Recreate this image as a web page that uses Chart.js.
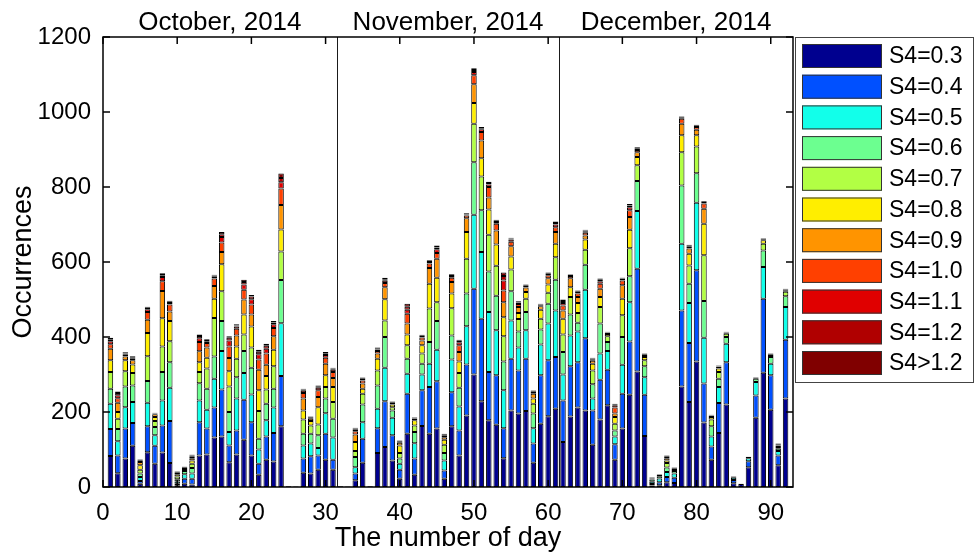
<!DOCTYPE html>
<html>
<head>
<meta charset="utf-8">
<script src="https://cdn.jsdelivr.net/npm/chart.js@4.4.1/dist/chart.umd.min.js"></script>
<style>
html,body{margin:0;padding:0;background:#fff}
#wrap{width:975px;height:552px}
</style>
</head>
<body>
<div id="wrap"><canvas id="chart" width="975" height="552"></canvas></div>
<script>
// day number 1..92 (1 Oct .. 31 Dec 2014)
const days = Array.from({length:92},(_,i)=>i+1);

const seriesLabels = ['S4=0.3','S4=0.4','S4=0.5','S4=0.6','S4=0.7','S4=0.8','S4=0.9','S4=1.0','S4=1.1','S4=1.2','S4>1.2'];

const monthNames = ['October, 2014','November, 2014','December, 2014'];
const monthEdges = [31.5, 61.5];

const yTicks = [0,200,400,600,800,1000,1200];
const xTicks = [0,10,20,30,40,50,60,70,80,90];

// occurrences per day, one array per S4 bin
const s03 = [83,37,76,110,9,93,62,92,64,5, 9,7,84,87,132,135,66,87,126,84, 33,73,68,162,2,1,38,36,46,73,
  46,2,1,18,65,2,91,107,71,22, 142,33,163,142,156,22,162,84,191,300, 229,178,166,77,204,196,203,65,169,189,
  209,120,188,212,204,113,180,218,73,156, 246,308,136,4,5,13,11,268,227,335, 172,73,144,220,10,8,53,185,305,206, 58,236];
const s04 = [72,47,80,61,7,69,48,72,112,4, 13,15,89,69,80,125,45,64,107,89, 29,62,76,134,1,1,38,46,38,69,
  27,1,1,18,64,0,66,122,67,24, 107,43,95,125,126,22,91,67,136,229, 220,129,132,80,138,115,139,51,129,149,
  138,111,134,121,193,91,106,95,41,93, 142,274,110,4,8,14,14,203,157,243, 104,35,80,113,9,1,16,59,197,92, 26,157];
const s05 = [67,38,57,56,11,63,28,67,89,6, 12,14,58,50,77,103,36,85,71,74, 38,43,68,141,0,0,35,34,20,55,
  59,0,0,17,44,0,52,89,47,16, 53,41,42,62,84,27,87,64,102,197, 178,160,120,101,102,61,76,41,82,98,
  124,69,82,82,129,32,70,50,21,77, 105,154,47,6,10,13,11,178,107,180, 122,27,43,49,6,0,8,36,85,31, 12,87];
const s06 = [40,33,55,44,9,58,22,76,68,6, 9,15,46,56,59,80,53,57,59,71, 29,44,50,115,0,0,31,26,34,39,
  50,0,0,27,47,0,62,82,19,14, 40,30,29,58,77,20,64,50,87,140, 111,108,92,77,78,43,49,39,40,53,
  82,60,56,23,67,38,80,24,16,74, 69,80,29,6,6,12,7,155,51,79, 98,27,22,18,3,0,3,9,44,18, 6,29];
const s07 = [45,27,41,33,10,66,16,68,56,7, 5,11,30,54,103,79,68,49,44,54, 74,38,60,76,0,0,38,22,29,31,
  45,0,0,16,29,0,40,44,9,15, 36,17,27,89,50,22,73,39,93,103, 90,98,80,67,58,33,35,26,29,29,
  60,47,47,26,40,37,44,15,18,58, 75,42,16,3,3,12,5,89,49,71, 122,18,18,9,1,0,1,3,18,5, 5,12];
const s08 = [31,18,29,23,12,62,11,75,54,6, 3,9,26,29,51,72,41,33,53,56, 55,36,44,59,0,0,24,12,46,31,
  40,0,0,24,13,0,31,57,7,20, 29,14,22,66,65,13,39,31,71,55, 49,67,57,51,35,16,18,14,24,22,
  36,42,26,27,27,18,27,6,18,44, 49,22,9,2,1,7,2,45,31,30, 84,7,9,3,0,0,0,1,9,2, 4,4];
const s09 = [31,25,10,11,9,35,7,73,25,4, 2,6,29,27,34,33,35,29,40,32, 55,30,36,65,0,0,32,6,27,31,
  24,0,0,20,14,0,14,32,4,7, 29,5,13,42,51,7,31,25,37,50, 47,32,37,40,27,16,12,13,9,17,
  31,22,24,16,11,8,22,3,9,36, 34,13,5,1,1,6,1,31,14,15, 40,3,5,1,0,0,0,0,3,1, 3,2];
const s10 = [12,12,5,4,3,21,2,26,19,2, 1,4,25,12,20,25,31,18,26,27, 27,30,22,44,0,0,15,3,18,16,
  16,0,0,9,8,0,7,11,2,3, 26,2,8,12,15,4,11,18,7,24, 23,28,18,31,12,8,4,5,3,8,
  13,13,6,9,7,4,13,1,16,13, 18,6,2,1,1,4,1,13,5,7, 14,1,1,1,0,0,0,0,1,1, 1,1];
const s11 = [8,8,3,3,2,7,1,11,4,1, 1,3,10,5,5,15,16,6,14,14, 14,13,10,17,0,0,6,2,7,7,
  6,0,0,4,4,0,4,6,1,2, 11,1,4,4,10,2,5,8,3,9, 7,7,5,27,6,4,2,2,2,4,
  7,7,3,4,4,2,7,1,6,5, 8,3,1,0,0,2,0,4,2,3, 4,1,1,0,0,0,0,0,1,0, 1,1];
const s12 = [5,6,2,2,1,4,1,5,3,1, 0,2,6,3,3,7,7,3,7,7, 7,8,5,11,0,0,3,1,4,5,
  3,0,0,3,2,0,3,4,1,1, 8,1,2,3,5,2,3,4,2,5, 3,4,3,12,3,2,1,1,1,2,
  4,5,1,2,2,1,4,1,3,2, 5,2,1,0,0,1,0,2,2,2, 2,1,1,0,0,0,0,0,1,0, 0,0];
const sGt12 = [4,4,2,2,1,3,0,5,3,0, 0,1,4,2,2,6,4,3,6,4, 5,5,4,12,0,0,2,0,2,3,
  2,0,0,2,2,0,2,4,0,0, 8,0,1,2,5,1,2,3,2,5, 3,3,3,9,2,2,1,1,1,1,
  4,4,1,2,2,1,3,0,1,1, 4,2,0,0,0,0,0,1,1,1, 1,0,0,0,0,0,0,0,0,0, 0,0];

const seriesValues = [s03,s04,s05,s06,s07,s08,s09,s10,s11,s12,sGt12];

// jet-like colours, one per bin
const jet = ['#00008f','#0050ff','#12ffea','#6cff90','#b2ff44','#ffee00','#ff9400','#ff4000','#e00000','#b00000','#800000'];

const FONT = "'Liberation Sans', Arial, Helvetica, sans-serif";
Chart.defaults.font.family = FONT;
Chart.defaults.color = '#000';

const datasets = seriesValues.map((vals,k)=>({
  label: seriesLabels[k],
  data: days.map((d,i)=>({x:d, y:vals[i]})),
  backgroundColor: jet[k],
  borderColor: '#000',
  borderWidth: 1,
  borderSkipped: false,
  barPercentage: 0.74,
  categoryPercentage: 1
}));

// box, inward ticks, month dividers + labels, legend
const framePlugin = {
  id:'frame',
  afterDatasetsDraw(chart){
    const {ctx, chartArea:a, scales:{x,y}} = chart;
    ctx.save();
    const line=(x1,y1,x2,y2)=>{ctx.beginPath();ctx.moveTo(x1,y1);ctx.lineTo(x2,y2);ctx.stroke();};

    ctx.strokeStyle='#1a1a1a'; ctx.lineWidth=1;
    monthEdges.forEach(v=>{
      const px=Math.round(x.getPixelForValue(v))+0.5;
      line(px,a.top,px,a.bottom);
    });

    ctx.strokeStyle='#000'; ctx.lineWidth=1.5;
    ctx.strokeRect(a.left,a.top,a.right-a.left,a.bottom-a.top);
    const tl=7;
    xTicks.forEach(v=>{
      const px=x.getPixelForValue(v);
      line(px,a.bottom,px,a.bottom-tl);
      line(px,a.top,px,a.top+tl);
    });
    yTicks.forEach(v=>{
      const py=y.getPixelForValue(v);
      line(a.left,py,a.left+tl,py);
      line(a.right,py,a.right-tl,py);
    });

    // month titles, centred over each month
    const bounds=[x.min,...monthEdges,x.max];
    ctx.fillStyle='#000';
    ctx.font='26px '+FONT;
    ctx.textAlign='center';
    ctx.textBaseline='alphabetic';
    monthNames.forEach((m,i)=>{
      const c=(bounds[i]+bounds[i+1])/2;
      ctx.fillText(m,x.getPixelForValue(c),a.top-7);
    });

    // legend
    const lx=a.right+2, ly=a.top, lw=178, lh=345;
    ctx.fillStyle='#fff';
    ctx.fillRect(lx,ly,lw,lh);
    ctx.strokeStyle='#444'; ctx.lineWidth=1;
    ctx.strokeRect(lx+0.5,ly+0.5,lw,lh);
    ctx.font='23px '+FONT;
    ctx.textAlign='left';
    ctx.textBaseline='middle';
    chart.data.datasets.forEach((ds,i)=>{
      const sy=ly+7+i*30.7;
      ctx.fillStyle=ds.backgroundColor;
      ctx.fillRect(lx+7,sy,80,24);
      ctx.strokeStyle='#333';
      ctx.strokeRect(lx+7.5,sy+0.5,79,23);
      ctx.fillStyle='#000';
      ctx.fillText(ds.label,lx+94,sy+13);
    });
    ctx.restore();
  }
};

new Chart(document.getElementById('chart'),{
  type:'bar',
  data:{datasets},
  options:{
    responsive:false,
    animation:false,
    devicePixelRatio:1,
    layout:{padding:{left:0,right:182,top:37,bottom:0}},
    plugins:{legend:{display:false},tooltip:{enabled:false}},
    scales:{
      x:{
        type:'linear',
        stacked:true,
        offset:false,
        min:0,max:93,
        grid:{display:false,drawTicks:false,offset:false},
        border:{display:false},
        ticks:{stepSize:10,includeBounds:false,padding:12,font:{size:24},color:'#000',maxRotation:0,callback:v=>String(v)},
        title:{display:true,text:'The number of day',font:{size:27,lineHeight:1},padding:{top:0,bottom:0},color:'#000'},
        afterFit:s=>{s.height=65;}
      },
      y:{
        stacked:true,
        min:0,max:1200,
        grid:{display:false,drawTicks:false},
        border:{display:false},
        ticks:{stepSize:200,padding:12,font:{size:24},color:'#000',callback:v=>String(v)},
        title:{display:true,text:'Occurrences',font:{size:27,lineHeight:1},padding:{top:10,bottom:0},color:'#000'},
        afterFit:s=>{s.width=103;}
      }
    }
  },
  plugins:[framePlugin]
});
</script>
</body>
</html>
